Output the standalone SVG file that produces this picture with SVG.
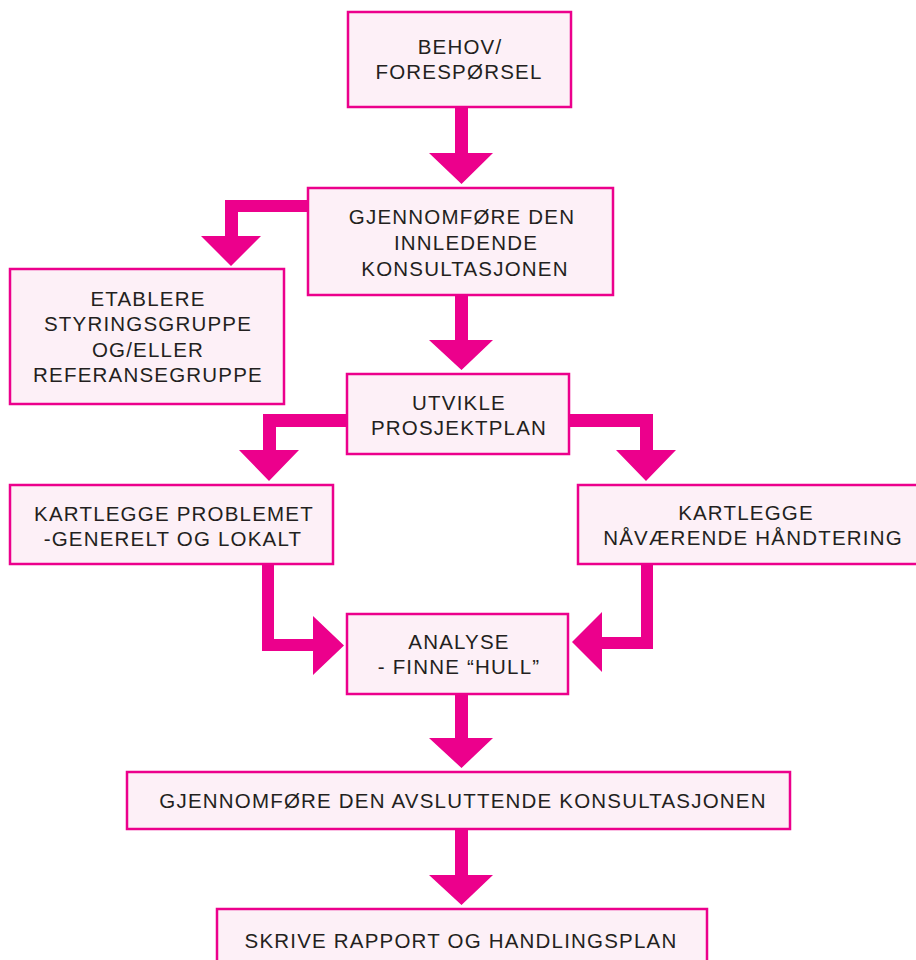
<svg xmlns="http://www.w3.org/2000/svg" width="916" height="960" viewBox="0 0 916 960">
<style>
.box{fill:#fdf0f7;stroke:#ec008c;stroke-width:2.5}
.t{font-family:"Liberation Sans",Arial,sans-serif;font-size:20.5px;letter-spacing:1.2px;fill:#231f20;text-anchor:middle}
.c{fill:#ec008c}
</style>
<rect width="916" height="960" fill="#ffffff"/>
<g id="connectors">
<polygon class="c" points="455,107 468,107 468,153 493,153 461.5,184 429,153 455,153"/>
<polygon class="c" points="308,200 308,212 238,212 238,236 261,236 231,266 201,236 225,236 225,200"/>
<polygon class="c" points="455,295 468,295 468,340 493,340 461.5,370 429,340 455,340"/>
<polygon class="c" points="347,414 347,427 276,427 276,450 299,450 269,481 239,450 263,450 263,414"/>
<polygon class="c" points="569,414 653,414 653,450 676,450 646,481 616,450 640,450 640,427 569,427"/>
<polygon class="c" points="262,565 274,565 274,639 313,639 313,616 344,645.5 313,675 313,651 262,651"/>
<polygon class="c" points="641,565 653,565 653,649 602,649 602,672 572,642 602,612 602,637 641,637"/>
<polygon class="c" points="455,694 468,694 468,738 493,738 461.5,768 429,738 455,738"/>
<polygon class="c" points="455,829 468,829 468,875 493,875 461.5,905 429,875 455,875"/>
</g>
<g id="n1"><rect class="box" x="348" y="12" width="223" height="95"/>
<text class="t" x="460" y="54">BEHOV/</text><text class="t" x="459" y="79">FORESPØRSEL</text></g>
<g id="n2"><rect class="box" x="308" y="188" width="305" height="107"/>
<text class="t" x="462" y="224">GJENNOMFØRE DEN</text><text class="t" x="466" y="250">INNLEDENDE</text><text class="t" x="465" y="276">KONSULTASJONEN</text></g>
<g id="n3"><rect class="box" x="10" y="269" width="274" height="135"/>
<text class="t" x="148" y="306">ETABLERE</text><text class="t" x="148" y="331">STYRINGSGRUPPE</text><text class="t" x="148" y="357">OG/ELLER</text><text class="t" x="148" y="382">REFERANSEGRUPPE</text></g>
<g id="n4"><rect class="box" x="347" y="374" width="222" height="80"/>
<text class="t" x="459" y="410">UTVIKLE</text><text class="t" x="459" y="435">PROSJEKTPLAN</text></g>
<g id="n5"><rect class="box" x="10" y="485" width="323" height="79"/>
<text class="t" x="174" y="521">KARTLEGGE PROBLEMET</text><text class="t" x="173" y="546">-GENERELT OG LOKALT</text></g>
<g id="n6"><rect class="box" x="578" y="485" width="345" height="79"/>
<text class="t" x="746" y="520">KARTLEGGE</text><text class="t" x="753" y="545">NÅVÆRENDE HÅNDTERING</text></g>
<g id="n7"><rect class="box" x="347" y="614" width="221" height="80"/>
<text class="t" x="459" y="649">ANALYSE</text><text class="t" x="459" y="674">- FINNE “HULL”</text></g>
<g id="n8"><rect class="box" x="127" y="772" width="663" height="57"/>
<text class="t" x="463" y="808">GJENNOMFØRE DEN AVSLUTTENDE KONSULTASJONEN</text></g>
<g id="n9"><rect class="box" x="217" y="909" width="490" height="60"/>
<text class="t" x="461" y="948">SKRIVE RAPPORT OG HANDLINGSPLAN</text></g>
</svg>
